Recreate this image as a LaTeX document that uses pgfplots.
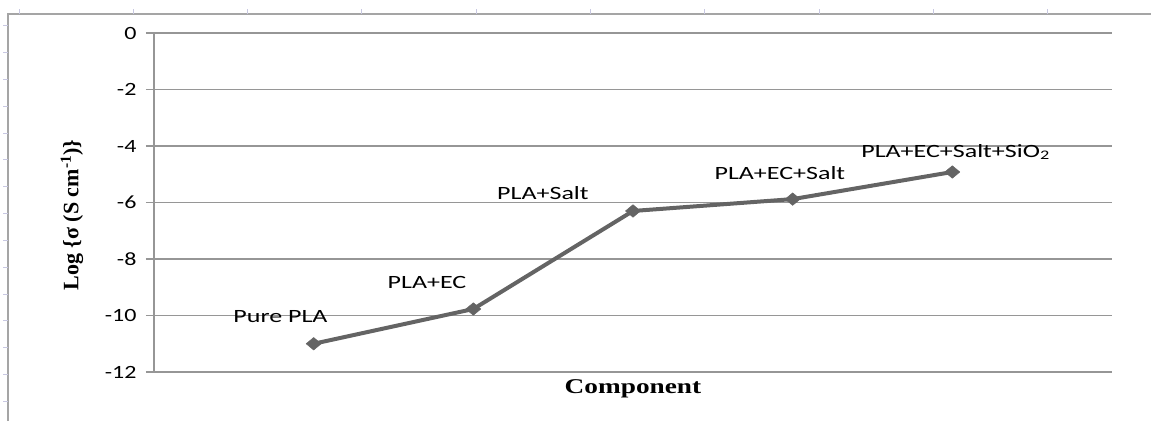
\documentclass[border=0pt]{standalone}
\usepackage{pgfplots}
\pgfplotsset{compat=1.18}
\usepackage{fontspec}
\setmainfont{Liberation Serif}
\newfontfamily\carlito{Carlito}
\definecolor{gridc}{RGB}{150,150,150}
\definecolor{linec}{RGB}{100,100,100}
\definecolor{framec}{RGB}{165,165,165}
\definecolor{tickc}{RGB}{200,200,225}
\begin{document}
\begin{tikzpicture}[x=1pt,y=1pt]
\useasboundingbox (0,0) rectangle (1151,421);
% spreadsheet frame
\draw[framec, line width=1.5pt] (8,0) -- (8,407) -- (1151,407);
\foreach \i in {0,...,9} {\draw[tickc, line width=1pt] ({19+114.3*\i},407) -- ({19+114.3*\i},412);}
\foreach \i in {0,...,14} {\draw[tickc, line width=1pt] (3,{395-26.8*\i}) -- (8,{395-26.8*\i});}
\begin{axis}[
  at={(154pt,49pt)}, anchor=south west,
  scale only axis, width=958pt, height=339pt,
  xmin=0, xmax=6, ymin=-12, ymax=0,
  xtick=\empty,
  ytick={-12,-10,-8,-6,-4,-2,0},
  axis x line*=bottom, axis y line*=left,
  axis line style={gridc, line width=1.5pt, -},
  ymajorgrids, grid style={gridc, line width=1.5pt},
  tick align=outside, major tick length=8pt,
  tick style={gridc, line width=1.5pt},
  /pgf/number format/assume math mode=true,
  yticklabel style={font=\carlito\fontsize{24}{24}\selectfont, yscale=0.78, xshift=-6pt},
  xlabel={\textbf{Component}},
  xlabel style={at={(axis description cs:0.5,0)}, anchor=center, yshift=-17pt, font=\fontsize{21}{21}\selectfont, xscale=1.3},
  ylabel={\textbf{Log \{σ (S cm\textsuperscript{-1})\}}},
  ylabel style={at={(axis description cs:-0.0856,0.463)}, anchor=center, rotate=0, font=\fontsize{22}{22}\selectfont},
  clip=false,
]
\addplot[linec, line width=4pt, mark=diamond*, mark size=8pt, mark options={fill=linec, draw=linec, line width=0.5pt, xscale=1.25, yscale=0.78}]
  coordinates {(1,-11.0) (2,-9.77) (3,-6.30) (4,-5.88) (5,-4.92)};
\begin{scope}[every node/.style={font=\carlito\fontsize{26}{26}\selectfont, yscale=0.72, anchor=base, inner sep=0pt}]
\node at (axis cs:0.792,-10.23) {Pure PLA};
\node at (axis cs:1.71,-9.03) {PLA+EC};
\node at (axis cs:2.436,-5.91) {PLA+Salt};
\node at (axis cs:3.92,-5.20) {PLA+EC+Salt};
\node at (axis cs:5.02,-4.39) {PLA+EC+Salt+SiO\textsubscript{2}};
\end{scope}
\end{axis}
\end{tikzpicture}
\end{document}
